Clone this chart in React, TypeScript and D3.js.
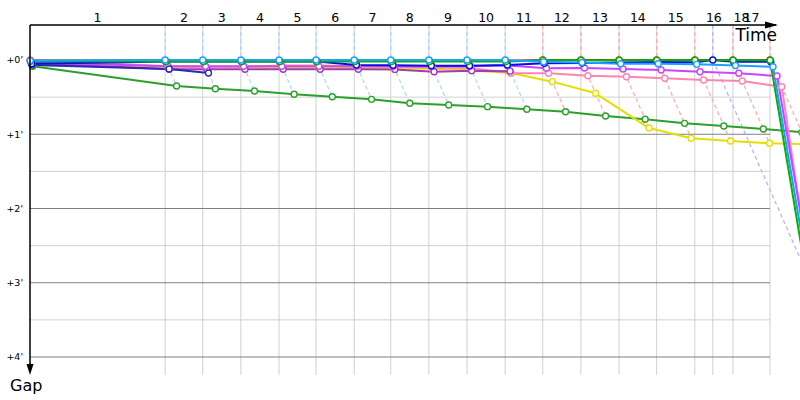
import React from "react";
import * as d3 from "d3";

// Lap numbers and the leader's crossing time (s) for each lap
const lapNumbers = [1, 2, 3, 4, 5, 6, 7, 8, 9, 10, 11, 12, 13, 14, 15, 16, 17, 18];
const leaderTimes = [248, 317, 387, 457, 525, 595, 662, 732, 802, 872, 941, 1011, 1081, 1150, 1220, 1290, 1358, 1253];
const lapLeader = ["cyan", "cyan", "cyan", "cyan", "cyan", "cyan", "cyan", "cyan", "cyan", "cyan",
  "red", "red", "red", "red", "red", "red", "red", "blue"];

// Gap ticks (seconds)
const majorGaps = [0, 60, 120, 180, 240];
const minorGaps = [30, 90, 150, 210];
const gapLabels = ["+0'", "+1'", "+2'", "+3'", "+4'"];

// gaps (s): index 0 = start, index k = end of lap k
const darkGreenGaps = [5, 21, 23.2, 25, 27.7, 29.7, 31.8, 35, 36.4, 37.7, 39.8, 41.8, 45.3, 47.9, 51.2, 53.3, 55.8, 58.4, null];
const yellowGaps = [4, 5.5, 5.8, 6, 6.2, 6.3, 6.5, 6.7, 7, 8.5, 10.5, 17.5, 26.9, 55, 63.3, 65.5, 67.3, 68, null];
const pinkGaps = [0, 5, 5.4, 5.4, 4.5, 4.5, 5, 5.5, 6, 6.5, 10.7, 10.7, 12.7, 13.5, 14.8, 16.2, 17, 21.6, 180];
const purpleGaps = [2.5, 7.5, 7.5, 7.5, 7.5, 7.5, 7.5, 7.6, 9.5, 8.6, 9, null, null, null, null, null, null, null, null];
const magentaGaps = [2, 5, 5, 5, 5, 5, 5, 5, 5, 5, 4.5, 6.7, 6.5, 7.3, 8.1, 9.5, 10.7, 12.9, 185];
const navyGaps = [4, 7.3, 10.5, null, null, null, null, null, null, null, null, null, null, null, null, null, null, null, null];
const redGaps = [0.5, 0.8, 0.8, 0.8, 0.8, 0.8, 0.8, 0.8, 0.8, 0.8, 0.8, 0, 0, 0, 0, 0, 0, 0, null];
const blueGaps = [3, 1.3, 1.3, 1.3, 1.3, 1.3, 4, 4.2, 4.6, 4.6, 4, 2.7, 2.4, 2, 1.6, 1.9, 1.5, 1.5, 0];
const greenGaps = [1, 1.3, 1.3, 1.3, 1.3, 1.3, 1.3, 1.3, 1.3, 1.3, 1.3, 0.25, 0.25, 0.25, 0.25, 0.25, 0.25, 0.25, 170];
const cyanGaps = [0.5, 0, 0, 0, 0, 0, 0, 0, 0, 0, 0, 1.5, 2, 3, 3, 3.5, 4.5, 5.5, 177];

const seriesNames = ["darkgreen", "yellow", "pink", "purple", "magenta", "navy", "red", "blue", "green", "cyan"];
const seriesGaps = [darkGreenGaps, yellowGaps, pinkGaps, purpleGaps, magentaGaps, navyGaps, redGaps, blueGaps, greenGaps, cyanGaps];
const seriesColors: Record<string, string> = {
  darkgreen: "#2ca02c",
  yellow: "#e2e000",
  pink: "#ff85b0",
  purple: "#a03cb4",
  magenta: "#cc44ff",
  navy: "#2a2ab4",
  red: "#d02828",
  green: "#00b400",
  blue: "#0a0aee",
  cyan: "#1e9eff",
};
const lapLineColors: Record<string, string> = {
  cyan: "#a6d6ff",
  red: "#ffa8a8",
  blue: "#b0b0ff",
};

const W = 800;
const H = 400;

export default function App() {
  const x = d3.scaleLinear().domain([0, 1358]).range([30, 770]);
  const y = d3.scaleLinear().domain([0, 240]).range([60, 357]);
  const axisTop = 25;
  const axisBottom = 375;
  const x0 = x(0);
  const xEnd = x(d3.max(leaderTimes) as number);

  const timeOf = (k: number) => (k === 0 ? 0 : leaderTimes[k - 1]);

  const series = seriesNames.map((name, si) => {
    const pts = seriesGaps[si]
      .map((g, k) => (g === null ? null : { t: timeOf(k) + (g as number), g: g as number }))
      .filter((p): p is { t: number; g: number } => p !== null)
      .sort((a, b) => a.t - b.t);
    return { name, color: seriesColors[name], pts };
  });

  const line = d3
    .line<{ t: number; g: number }>()
    .x((d) => x(d.t))
    .y((d) => y(d.g));

  // lap lines: leader crossing down to largest gap on that lap
  const lapLines = lapNumbers.map((lap, i) => {
    const gaps = seriesGaps.map((s) => s[lap]).filter((g) => g !== null) as number[];
    const maxG = d3.max(gaps) as number;
    const t = leaderTimes[i];
    return { lap, t, maxG, color: lapLineColors[lapLeader[i]] };
  });

  const lapLabelX = lapNumbers.map((lap, i) => {
    const prev = i === 0 ? 0 : leaderTimes[i - 1];
    return (x(prev) + x(leaderTimes[i])) / 2;
  });

  const font = "Tahoma, 'DejaVu Sans', sans-serif";

  return (
    <svg width={W} height={H} style={{ position: "absolute", left: 0, top: 0, background: "#fff" }} fontFamily={font}>
      {/* minor horizontal grid */}
      {minorGaps.map((g) => (
        <line key={"mn" + g} x1={x0} x2={xEnd} y1={y(g)} y2={y(g)} stroke="#d0d0d0" strokeWidth={1} />
      ))}
      {/* vertical lap grid */}
      {leaderTimes.map((t, i) => (
        <line key={"vg" + i} x1={x(t)} x2={x(t)} y1={axisTop} y2={axisBottom} stroke="#d0d0d0" strokeWidth={1} />
      ))}
      {/* major horizontal grid */}
      {majorGaps.map((g) => (
        <line key={"mj" + g} x1={x0} x2={xEnd} y1={y(g)} y2={y(g)} stroke="#808080" strokeWidth={1} />
      ))}
      {/* y labels */}
      {majorGaps.map((g, i) => (
        <text key={"yl" + g} x={23} y={y(g)} dy="0.35em" textAnchor="end" fontSize={9.5} fill="#000">
          {gapLabels[i]}
        </text>
      ))}
      {/* lap lines */}
      {lapLines.map((l) => (
        <polyline
          key={"ll" + l.lap}
          points={`${x(l.t)},${axisTop} ${x(l.t)},${y(0)} ${x(l.t + l.maxG)},${y(l.maxG)}`}
          fill="none"
          stroke={l.color}
          strokeWidth={1.2}
          strokeDasharray="4,3"
        />
      ))}
      {/* series lines */}
      {series.map((s) => (
        <path key={"s" + s.name} d={line(s.pts) || ""} fill="none" stroke={s.color} strokeWidth={2} strokeLinejoin="round" />
      ))}
      {/* markers */}
      {series.map((s) =>
        s.pts.map((p, j) => (
          <circle key={"m" + s.name + j} cx={x(p.t)} cy={y(p.g)} r={3} fill="#fff" stroke={s.color} strokeWidth={1.4} />
        ))
      )}
      {/* axes */}
      <line x1={x0} x2={776} y1={axisTop} y2={axisTop} stroke="#000" strokeWidth={1.5} />
      <path d={`M778,${axisTop} L765,${axisTop - 3.5} L765,${axisTop + 3.5} Z`} fill="#000" />
      <line x1={x0} x2={x0} y1={axisTop} y2={axisBottom - 4} stroke="#000" strokeWidth={1.5} />
      <path d={`M${x0},${axisBottom} L${x0 - 3.5},${axisBottom - 11} L${x0 + 3.5},${axisBottom - 11} Z`} fill="#000" />
      <text x={777} y={41} textAnchor="end" fontSize={17} fill="#000">Time</text>
      <text x={10} y={391} fontSize={16} fill="#000">Gap</text>
      {/* lap labels */}
      {lapNumbers.map((lap, i) => (
        <text key={"lab" + lap} x={lapLabelX[i]} y={22} textAnchor="middle" fontSize={12.5} fill="#000">
          {lap}
        </text>
      ))}
    </svg>
  );
}
